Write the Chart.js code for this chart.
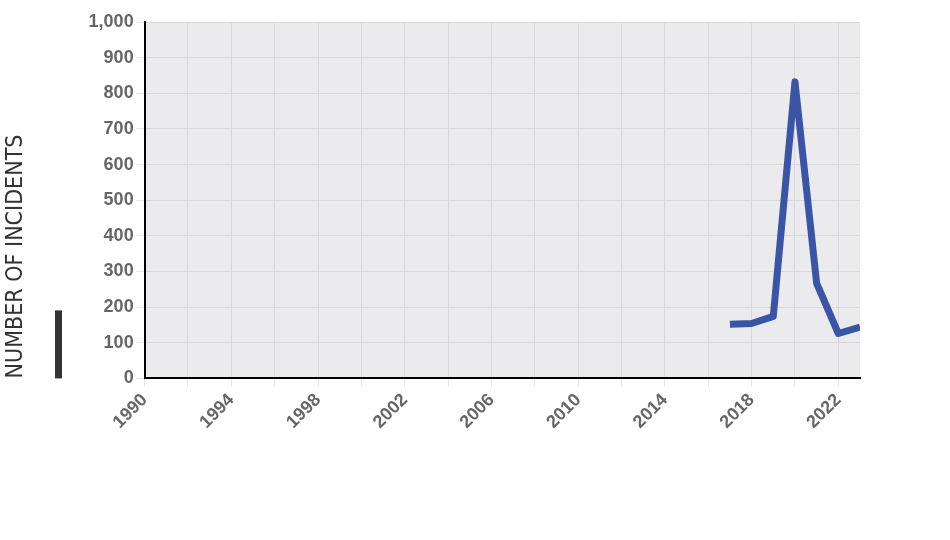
<!DOCTYPE html>
<html>
<head>
<meta charset="utf-8">
<script src="https://cdn.jsdelivr.net/npm/chart.js@4/dist/chart.umd.min.js"></script>
<style>
  html, body { margin: 0; padding: 0; background: #ffffff; }
  #wrap { width: 950px; height: 540px; position: relative; }
</style>
</head>
<body>
<div id="wrap"><canvas id="grafico"></canvas></div>
<script>
const anos = [2017, 2018, 2019, 2020, 2021, 2022, 2023];
const incidentes = [152, 154, 174, 832, 267, 126, 144];

// fundo cinza da área do gráfico + barra escura ao lado do título
const fundoPlugin = {
    id: 'fundo',
    beforeDraw(chart) {
        const {ctx, chartArea: a} = chart;
        ctx.save();
        ctx.fillStyle = '#ebebee';
        ctx.fillRect(a.left, a.top, a.right - a.left, a.bottom - a.top);
        ctx.restore();
    },
    afterDraw(chart) {
        const {ctx, chartArea: a} = chart;
        ctx.save();
        ctx.fillStyle = '#333333';
        ctx.fillRect(55, a.bottom - 68, 7, 68);
        ctx.restore();
    }
};

const ctx = document.getElementById('grafico').getContext('2d');

new Chart(ctx, {
    type: 'line',
    data: {
        datasets: [{
            label: 'Number of incidents',
            data: anos.map((a, i) => ({x: a, y: incidentes[i]})),
            borderColor: '#3b55a6',
            borderWidth: 7,
            pointRadius: 0,
            tension: 0,
            borderJoinStyle: 'round',
            fill: false
        }]
    },
    plugins: [fundoPlugin],
    options: {
        responsive: true,
        maintainAspectRatio: false,
        animation: false,
        layout: {padding: {left: 2, right: 90, top: 22, bottom: 104}},
        plugins: {
            legend: {display: false},
            tooltip: {enabled: false}
        },
        scales: {
            x: {
                type: 'linear',
                min: 1990,
                max: 2023,
                border: {color: '#000000', width: 2},
                grid: {color: '#d8d8dc', lineWidth: 1, tickLength: 8, tickColor: '#e6e6e8'},
                ticks: {
                    stepSize: 2,
                    includeBounds: false,
                    autoSkip: false,
                    maxRotation: 45,
                    minRotation: 45,
                    color: '#666666',
                    font: {family: '"Liberation Sans", Arial, sans-serif', size: 18, weight: 'bold'},
                    callback: v => {
                        const ano = Math.round(v);
                        return (ano - 1990) % 4 === 0 ? String(ano) : '';
                    }
                }
            },
            y: {
                min: 0,
                max: 1000,
                border: {color: '#000000', width: 2},
                grid: {color: '#d8d8dc', lineWidth: 1, tickLength: 8, tickColor: '#e6e6e8'},
                ticks: {
                    stepSize: 100,
                    color: '#666666',
                    font: {family: '"Liberation Sans", Arial, sans-serif', size: 18, weight: 'bold'},
                    callback: v => v.toLocaleString('en-US')
                },
                title: {
                    display: true,
                    text: 'NUMBER OF INCIDENTS',
                    align: 'start',
                    color: '#333333',
                    font: {family: '"Liberation Sans Narrow", "DejaVu Sans Condensed", sans-serif', size: 23, weight: 'normal'},
                    padding: {top: 0, bottom: 56}
                }
            }
        }
    }
});
</script>
</body>
</html>
